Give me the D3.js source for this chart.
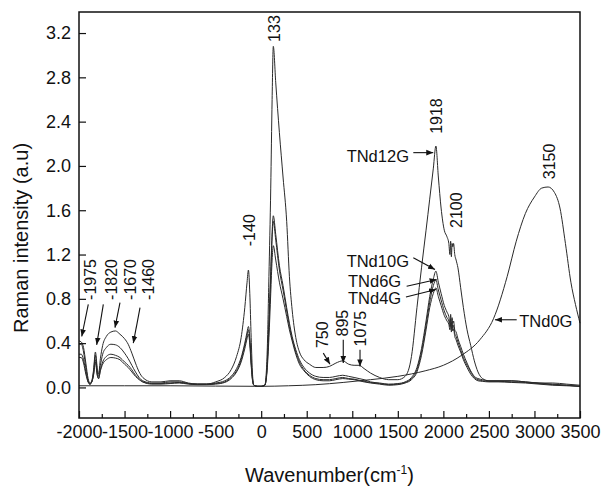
<!DOCTYPE html>
<html>
<head>
<meta charset="utf-8">
<script src="https://d3js.org/d3.v7.min.js"></script>
<style type="text/css">
  body { margin: 0; background: #fff; }
  text { font-family: Arial, "Liberation Sans", sans-serif; fill: #111; }
  .curve { fill: none; stroke: #2a2a2a; stroke-width: 1; }
</style>
</head>
<body>
<svg id="chart" width="601" height="488"></svg>
<script>
// wavenumber grid shared by the four doped samples
var waveG = [-2000,-1975,-1950,-1925,-1900,-1880,-1860,-1840,-1820,-1800,
             -1785,-1765,-1740,-1700,-1650,-1600,-1550,-1500,-1460,-1420,
             -1380,-1340,-1300,-1200,-1100,-1000,-900,-800,-700,-600,
             -500,-400,-330,-270,-220,-180,-155,-140,-125,-110,
             -95,-80,-40,0,40,65,85,105,120,133,
             160,200,240,280,310,340,380,420,470,530,
             600,680,750,820,895,960,1020,1075,1130,1200,
             1300,1400,1500,1580,1650,1710,1760,1810,1850,1890,
             1918,1945,1975,2010,2040,2060,2072,2080,2088,2096,
             2104,2112,2125,2140,2160,2190,2220,2260,2300,2340,
             2380,2430,2500,2600,2750,2900,3050,3200,3350,3500];

var tnd12 = [0.42,0.41,0.36,0.22,0.08,0.04,0.06,0.16,0.32,0.18,
             0.12,0.26,0.38,0.46,0.50,0.51,0.48,0.44,0.39,0.31,
             0.22,0.14,0.09,0.05,0.05,0.06,0.06,0.04,0.03,0.03,
             0.05,0.09,0.16,0.28,0.45,0.72,0.95,1.06,0.85,0.45,
             0.12,0.02,0.01,0.01,0.02,0.30,1.00,1.80,2.60,3.08,
             2.75,2.30,1.90,1.50,1.00,0.70,0.45,0.32,0.25,0.21,
             0.18,0.18,0.19,0.22,0.24,0.21,0.20,0.20,0.17,0.13,
             0.09,0.07,0.07,0.10,0.28,0.72,1.08,1.42,1.70,1.98,
             2.18,1.90,1.62,1.42,1.36,1.30,1.20,1.32,1.18,1.30,
             1.27,1.30,1.20,1.15,1.08,0.90,0.72,0.52,0.38,0.24,
             0.14,0.08,0.06,0.06,0.06,0.05,0.04,0.04,0.03,0.02];

var tnd10 = [0.39,0.39,0.32,0.18,0.06,0.03,0.05,0.14,0.29,0.15,
             0.10,0.20,0.30,0.36,0.39,0.385,0.36,0.31,0.26,0.20,
             0.14,0.09,0.06,0.04,0.04,0.05,0.05,0.035,0.03,0.03,
             0.04,0.06,0.10,0.17,0.27,0.40,0.50,0.55,0.45,0.25,
             0.08,0.02,0.01,0.01,0.02,0.20,0.60,1.05,1.40,1.55,
             1.38,1.10,0.92,0.72,0.58,0.46,0.34,0.25,0.18,0.13,
             0.10,0.09,0.09,0.10,0.11,0.10,0.09,0.08,0.07,0.05,
             0.04,0.03,0.035,0.05,0.09,0.18,0.35,0.60,0.82,0.98,
             1.05,0.95,0.85,0.74,0.68,0.64,0.58,0.66,0.56,0.63,
             0.58,0.60,0.52,0.50,0.44,0.37,0.30,0.22,0.15,0.10,
             0.08,0.07,0.06,0.06,0.06,0.05,0.04,0.03,0.02,0.01];

var tnd6 = [0.30,0.30,0.25,0.14,0.05,0.03,0.05,0.12,0.25,0.12,
            0.08,0.16,0.23,0.28,0.30,0.29,0.27,0.23,0.20,0.16,
            0.11,0.08,0.05,0.035,0.035,0.04,0.045,0.035,0.03,0.03,
            0.035,0.05,0.09,0.15,0.25,0.38,0.47,0.52,0.42,0.22,
            0.07,0.02,0.01,0.01,0.02,0.18,0.55,1.00,1.35,1.50,
            1.33,1.06,0.88,0.69,0.55,0.44,0.32,0.23,0.16,0.11,
            0.08,0.07,0.07,0.08,0.09,0.08,0.075,0.065,0.055,0.045,
            0.035,0.025,0.03,0.045,0.08,0.16,0.32,0.56,0.77,0.92,
            0.97,0.88,0.79,0.69,0.63,0.60,0.55,0.62,0.53,0.59,
            0.54,0.56,0.49,0.46,0.41,0.34,0.27,0.20,0.14,0.09,
            0.07,0.06,0.055,0.055,0.05,0.045,0.035,0.025,0.02,0.01];

var tnd4 = [0.27,0.27,0.22,0.12,0.05,0.03,0.05,0.11,0.23,0.11,
            0.08,0.15,0.21,0.25,0.27,0.265,0.25,0.21,0.18,0.14,
            0.10,0.07,0.05,0.03,0.03,0.035,0.04,0.03,0.025,0.025,
            0.03,0.045,0.08,0.14,0.23,0.35,0.44,0.48,0.39,0.20,
            0.06,0.02,0.01,0.01,0.02,0.15,0.45,0.85,1.15,1.28,
            1.15,0.95,0.80,0.64,0.52,0.42,0.30,0.21,0.15,0.10,
            0.07,0.06,0.06,0.07,0.08,0.075,0.07,0.06,0.05,0.04,
            0.03,0.02,0.025,0.04,0.07,0.14,0.29,0.52,0.72,0.85,
            0.90,0.82,0.74,0.65,0.60,0.57,0.52,0.58,0.50,0.56,
            0.51,0.53,0.46,0.43,0.38,0.32,0.25,0.18,0.12,0.08,
            0.06,0.055,0.05,0.05,0.045,0.04,0.03,0.02,0.015,0.01];

// undoped sample, own grid
var wave0 = [-2000,-1500,-1000,-500,0,300,600,900,1200,1500,
             1800,2000,2200,2400,2550,2700,2800,2900,3000,3080,
             3150,3220,3280,3340,3400,3450,3500];
var tnd0 = [0.015,0.015,0.015,0.012,0.01,0.015,0.025,0.045,0.07,0.10,
            0.15,0.20,0.29,0.43,0.62,1.00,1.32,1.57,1.72,1.80,
            1.81,1.76,1.62,1.30,0.95,0.75,0.58];

var xTicks = [-2000,-1500,-1000,-500,0,500,1000,1500,2000,2500,3000,3500];
var yTicks = [0.0,0.4,0.8,1.2,1.6,2.0,2.4,2.8,3.2];

// peak labels: text, wavenumber, intensity of label foot, arrow (from, to) or null
var peakLabels = ["-1975","-1820","-1670","-1460","-140","133","750","895","1075","1918","2100","3150"];
var peakPos    = [[-1872,0.79],[-1641,0.79],[-1440,0.79],[-1239,0.79],[-132,1.275],[143,3.12],
                  [673,0.355],[889,0.46],[1088,0.37],[1926,2.29],[2136,1.44],[3161,1.88]];
var peakArrows = [[[-1898,0.75],[-1970,0.46]],[[-1733,0.75],[-1806,0.385]],[[-1550,0.765],[-1605,0.54]],
                  [[-1330,0.72],[-1404,0.40]],null,null,
                  [[682,0.31],[755,0.21]],[[901,0.43],[901,0.22]],[[1085,0.34],[1085,0.19]],
                  null,null,null];

// sample labels
var sampleNames  = ["TNd12G","TNd10G","TNd6G","TNd4G","TNd0G"];
var samplePos    = [[938,2.04],[938,1.09],[953,0.91],[953,0.756],[2833,0.548]];
var sampleArrows = [[[1670,2.12],[1889,2.12]],[[1670,1.17],[1908,1.065]],[[1597,0.913],[1926,0.974]],
                    [[1589,0.817],[1919,0.885]],[[2805,0.611],[2566,0.611]]];

function draw() {
  var svg = d3.select("#chart");
  var left = 79, right = 580, top = 12, bottom = 418;

  var x = d3.scaleLinear().domain([-2000, 3500]).range([left, right]);
  var y = d3.scaleLinear().domain([-0.276, 3.39]).range([bottom, top]);

  svg.append("defs").append("marker")
      .attr("id", "head").attr("viewBox", "0 0 10 10")
      .attr("refX", 10).attr("refY", 5)
      .attr("markerWidth", 7).attr("markerHeight", 7)
      .attr("markerUnits", "userSpaceOnUse")
      .attr("orient", "auto")
    .append("path").attr("d", "M0,1 L10,5 L0,9 Z").attr("fill", "#111");

  var line = d3.line().x(d => x(d[0])).y(d => y(d[1])).curve(d3.curveMonotoneX);

  var doped = [tnd4, tnd6, tnd10, tnd12];
  doped.forEach(function(vals) {
    svg.append("path").attr("class", "curve")
      .attr("d", line(waveG.map((w, i) => [w, vals[i]])));
  });
  svg.append("path").attr("class", "curve")
    .attr("d", line(wave0.map((w, i) => [w, tnd0[i]])));

  // axes, ticks inward
  var minor = d3.range(-1750, 3500, 500);
  svg.append("g").attr("transform", "translate(0," + bottom + ")")
    .call(d3.axisBottom(x).tickValues(minor).tickSize(-4).tickFormat(""))
    .call(g => g.select(".domain").remove());
  var gx = svg.append("g").attr("transform", "translate(0," + bottom + ")")
    .call(d3.axisBottom(x).tickValues(xTicks).tickSize(-7).tickPadding(7).tickFormat(d => String(d)));
  gx.select(".domain").remove();
  gx.selectAll("text").attr("font-size", 18).style("font-family", "Arial, 'Liberation Sans', sans-serif");

  var gy = svg.append("g").attr("transform", "translate(" + left + ",0)")
    .call(d3.axisLeft(y).tickValues(yTicks).tickSize(-7).tickPadding(8).tickFormat(d => d.toFixed(1)));
  gy.select(".domain").remove();
  gy.selectAll("text").attr("font-size", 18).style("font-family", "Arial, 'Liberation Sans', sans-serif");

  svg.selectAll(".tick line").attr("stroke", "#111").attr("stroke-width", 1.2);

  svg.append("rect").attr("x", left).attr("y", top)
    .attr("width", right - left).attr("height", bottom - top)
    .attr("fill", "none").attr("stroke", "#111").attr("stroke-width", 1.5);

  // rotated peak labels
  peakLabels.forEach(function(t, i) {
    var px = x(peakPos[i][0]), py = y(peakPos[i][1]);
    svg.append("text").text(t)
      .attr("transform", "translate(" + px + "," + py + ") rotate(-90)")
      .attr("dy", "0.36em").attr("font-size", 16);
    var a = peakArrows[i];
    if (a) {
      svg.append("line")
        .attr("x1", x(a[0][0])).attr("y1", y(a[0][1]))
        .attr("x2", x(a[1][0])).attr("y2", y(a[1][1]))
        .attr("stroke", "#111").attr("stroke-width", 1.1)
        .attr("marker-end", "url(#head)");
    }
  });

  sampleNames.forEach(function(t, i) {
    svg.append("text").text(t)
      .attr("x", x(samplePos[i][0])).attr("y", y(samplePos[i][1]))
      .attr("font-size", 16.5);
    var a = sampleArrows[i];
    svg.append("line")
      .attr("x1", x(a[0][0])).attr("y1", y(a[0][1]))
      .attr("x2", x(a[1][0])).attr("y2", y(a[1][1]))
      .attr("stroke", "#111").attr("stroke-width", 1.1)
      .attr("marker-end", "url(#head)");
  });

  // axis titles
  var xt = svg.append("text").attr("x", (left + right) / 2).attr("y", 482)
    .attr("text-anchor", "middle").attr("font-size", 20);
  xt.append("tspan").text("Wavenumber(cm");
  xt.append("tspan").text("-1").attr("font-size", 12).attr("dy", -8);
  xt.append("tspan").text(")").attr("dy", 8);

  svg.append("text").text("Raman intensity (a.u)")
    .attr("transform", "translate(28,238) rotate(-90)")
    .attr("text-anchor", "middle").attr("font-size", 20);
}
draw();
</script>
</body>
</html>
